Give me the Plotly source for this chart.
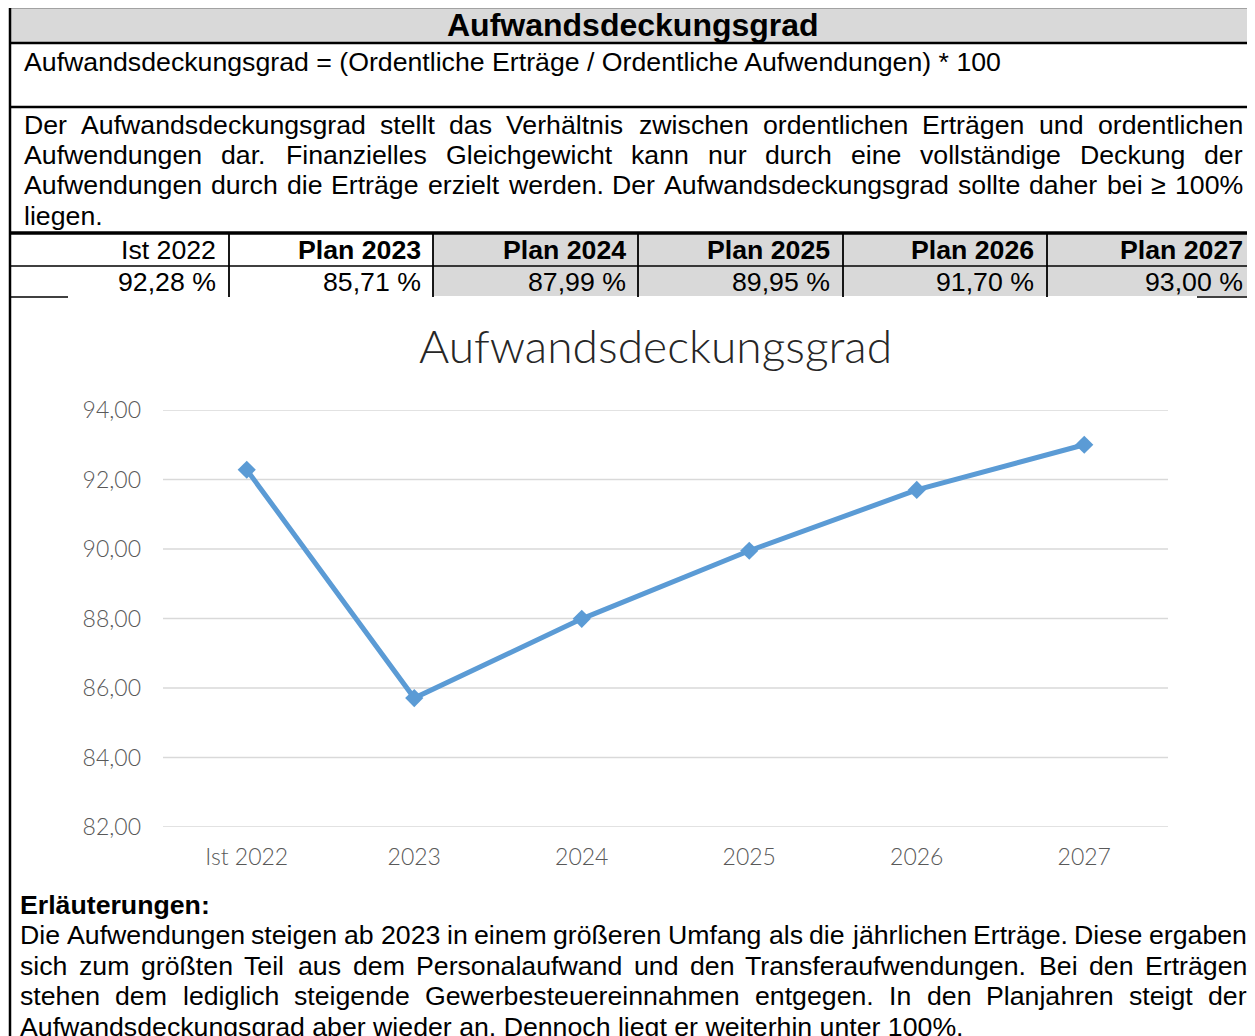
import plotly.graph_objects as go

W, H = 1255, 1036
OFF = 8  # page body margin offset of the browser

# ---------------- data ----------------
categories = ["Ist 2022", "2023", "2024", "2025", "2026", "2027"]
values = [92.28, 85.71, 87.99, 89.95, 91.70, 93.00]
table_headers = ["Ist 2022", "Plan 2023", "Plan 2024", "Plan 2025", "Plan 2026", "Plan 2027"]
table_values = ["92,28 %", "85,71 %", "87,99 %", "89,95 %", "91,70 %", "93,00 %"]
y_ticks = [82, 84, 86, 88, 90, 92, 94]

page_title = "Aufwandsdeckungsgrad"
formula = "Aufwandsdeckungsgrad = (Ordentliche Erträge / Ordentliche Aufwendungen) * 100"
desc_lines = [
    "Der Aufwandsdeckungsgrad stellt das Verhältnis zwischen ordentlichen Erträgen und ordentlichen",
    "Aufwendungen dar. Finanzielles Gleichgewicht kann nur durch eine vollständige Deckung der",
    "Aufwendungen durch die Erträge erzielt werden. Der Aufwandsdeckungsgrad sollte daher bei ≥ 100%",
    "liegen.",
]
notes_title = "Erläuterungen:"
notes_lines = [
    "Die Aufwendungen steigen ab 2023 in einem größeren Umfang als die jährlichen Erträge. Diese ergaben",
    "sich zum größten Teil aus dem Personalaufwand und den Transferaufwendungen. Bei den Erträgen",
    "stehen dem lediglich steigende Gewerbesteuereinnahmen entgegen. In den Planjahren steigt der",
    "Aufwandsdeckungsgrad aber wieder an. Dennoch liegt er weiterhin unter 100%.",
]
chart_title = "Aufwandsdeckungsgrad"

# ---------------- helpers ----------------
def X(px):
    return (px - OFF) / W

def Y(py):
    return 1 - (py - OFF) / H

ARIAL = {' ': 278, '%': 889, '(': 333, ')': 333, '*': 389, ',': 278, '-': 333, '.': 278, '/': 278,
         ':': 278, '=': 584, '≥': 549,
         'A': 667, 'B': 667, 'C': 722, 'D': 722, 'E': 667, 'F': 611, 'G': 778, 'H': 722, 'I': 278,
         'J': 500, 'K': 667, 'L': 556, 'M': 833, 'N': 722, 'O': 778, 'P': 667, 'Q': 778, 'R': 722,
         'S': 667, 'T': 611, 'U': 722, 'V': 667, 'W': 944, 'X': 667, 'Y': 667, 'Z': 611,
         'a': 556, 'b': 556, 'c': 500, 'd': 556, 'e': 556, 'f': 278, 'g': 556, 'h': 556, 'i': 222,
         'j': 222, 'k': 500, 'l': 222, 'm': 833, 'n': 556, 'o': 556, 'p': 556, 'q': 556, 'r': 333,
         's': 500, 't': 278, 'u': 556, 'v': 500, 'w': 722, 'x': 500, 'y': 500, 'z': 500,
         'ä': 556, 'ö': 556, 'ü': 556, 'ß': 611}
for d in "0123456789":
    ARIAL[d] = 556

def text_w(s, size):
    return sum(ARIAL.get(c, 556) for c in s) * size / 1000.0

DOC_FONT = "Liberation Sans, Arial, sans-serif"
CHART_FONT = "Lato, sans-serif"
FS = 26.7

annotations = []
shapes = []

def add_text(text, x, y, size=FS, anchor="left", bold=False, color="black", family=DOC_FONT, weight=None):
    f = dict(family=family, size=size, color=color)
    if weight is not None:
        f["weight"] = weight
    annotations.append(dict(
        text=f"<b>{text}</b>" if bold else text, x=X(x), y=Y(y), xref="paper", yref="paper",
        xanchor=anchor, yanchor="middle", showarrow=False, borderpad=0, borderwidth=0, font=f))

def justified(line, x0, x1, y, size=FS):
    words = line.split(" ")
    widths = [text_w(w, size) for w in words]
    gap = (x1 - x0 - sum(widths)) / (len(words) - 1)
    x = x0
    for w, ww in zip(words, widths):
        add_text(w, x, y, size)
        x += ww + gap

def rect(x0, y0, x1, y1, color):
    shapes.append(dict(type="rect", xref="paper", yref="paper", x0=X(x0), x1=X(x1),
                       y0=Y(y1), y1=Y(y0), fillcolor=color, line=dict(width=0), layer="below"))

def line(x0, y0, x1, y1, w=2, color="black"):
    shapes.append(dict(type="line", xref="paper", yref="paper", x0=X(x0), x1=X(x1),
                       y0=Y(y0), y1=Y(y1), line=dict(color=color, width=w)))

# ---------------- document frame ----------------
GRAY = "#d9d9d9"
rect(10, 7, 1270, 43, GRAY)
rect(433, 234, 1270, 296, GRAY)

line(10, 7, 1270, 7, 2.5)
line(10, 43, 1270, 43, 2.5)
line(10, 107, 1270, 107, 2.5)
line(10, 233, 1270, 233, 3.5)
line(10, 266, 1270, 266, 1.5)
line(10, 297, 68, 297, 1.5)
line(1197, 297, 1270, 297, 1.5)
for xv in [229, 433, 638, 843, 1047]:
    line(xv, 234, xv, 297, 1.8)
line(10, 6, 10, 1050, 2.5)

add_text(page_title, 633, 25, size=32, anchor="center", bold=True)
add_text(formula, 24, 62)
for i, ln in enumerate(desc_lines):
    yy = 125 + i * 30.2
    if i < len(desc_lines) - 1:
        justified(ln, 24, 1243, yy)
    else:
        add_text(ln, 24, yy)

cell_right = [216, 421, 626, 830, 1034, 1243]
for i, (hd, vv) in enumerate(zip(table_headers, table_values)):
    add_text(hd, cell_right[i], 250, anchor="right", bold=(i > 0))
    add_text(vv, cell_right[i], 282, anchor="right")

add_text(notes_title, 20, 905, bold=True)
for i, ln in enumerate(notes_lines):
    yy = 935 + i * 30.7
    if i < len(notes_lines) - 1:
        justified(ln, 20, 1247, yy)
    else:
        add_text(ln, 20, yy)

add_text(chart_title, 655, 345, size=46.2, anchor="center", color="#262626", family=CHART_FONT, weight=300)

# ---------------- chart ----------------
fig = go.Figure()
fig.add_trace(go.Scatter(
    x=categories, y=values, mode="lines+markers",
    line=dict(color="#5b9bd5", width=5),
    marker=dict(symbol="diamond", size=14, color="#5b9bd5"),
    hoverinfo="skip", showlegend=False))

fig.update_layout(
    width=W, height=H, margin=dict(l=0, r=0, t=0, b=0, autoexpand=False),
    paper_bgcolor="white", plot_bgcolor="white",
    separators=",.",
    showlegend=False,
    xaxis=dict(domain=[X(163), X(1168)], type="category", range=[-0.5, 5.5],
               showgrid=False, zeroline=False, showline=False, ticks="",
               tickfont=dict(family=CHART_FONT, size=23, color="#595959", weight=300),
               ticklabelstandoff=14),
    yaxis=dict(domain=[Y(827), Y(410)], range=[82, 94], tickvals=y_ticks, tickformat=".2f",
               showgrid=False, zeroline=False, showline=False,
               ticks="", tickfont=dict(family=CHART_FONT, size=23, color="#595959", weight=300),
               ticklabelstandoff=21),
    shapes=shapes, annotations=annotations,
)
# horizontal gridlines drawn on the y scale so end lines are kept
for v in y_ticks:
    fig.add_hline(y=v, line=dict(color="#d9d9d9", width=1.3), layer="below",
                  x0=0, x1=1)

fig.write_html("out.html")
